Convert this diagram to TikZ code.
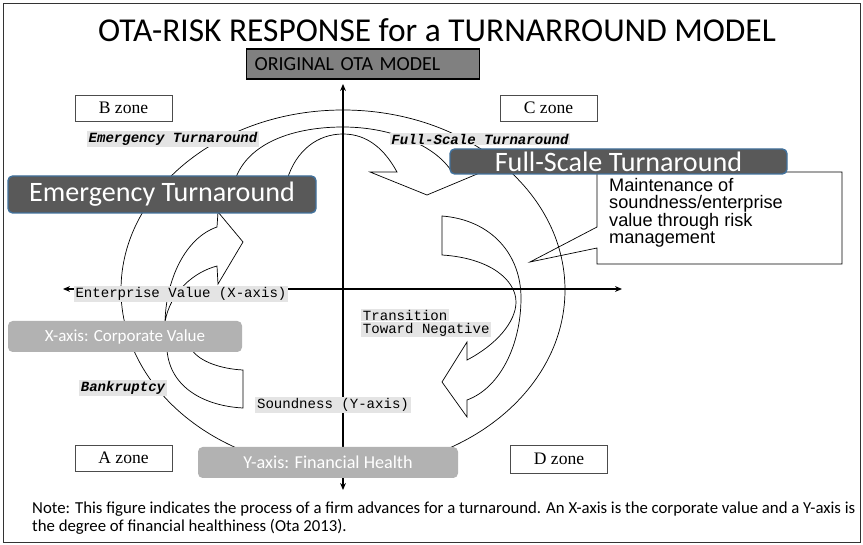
\documentclass[tikz,border=0pt]{standalone}
\usepackage{fontspec}
\setmainfont{Carlito}
\newfontfamily\arialfont{Liberation Sans}
\newfontfamily\gothfont{Liberation Mono}
\newfontfamily\minchofont{Liberation Serif}
\usetikzlibrary{arrows.meta, positioning}
\newcommand{\pxlen}{0.03cm}
\definecolor{boxdark}{RGB}{89,89,89}
\definecolor{boxedge}{RGB}{65,113,156}
\definecolor{boxlight}{RGB}{178,178,178}
\definecolor{labelbg}{RGB}{228,228,228}
\definecolor{origfill}{RGB}{128,128,128}
\tikzset{
      thinline/.style   = {draw=black, line width=0.6pt},
      axisline/.style   = {draw=black, line width=0.9pt, <->, >={Stealth[length=6pt,width=5pt]}},
      zonebox/.style    = {draw=black!70, fill=white, line width=0.8pt, inner sep=0pt,
                           minimum width=97*\pxlen, minimum height=26*\pxlen,
                           font=\minchofont\fontsize{15}{17}\selectfont},
      turnbox/.style    = {draw=boxedge, fill=boxdark, line width=1.2pt, rounded corners=4pt,
                           text=white, inner sep=0pt, font=\fontsize{24}{28}\selectfont},
      axisbox/.style    = {fill=boxlight, rounded corners=4pt, text=white, inner sep=0pt,
                           font=\fontsize{14.5}{16}\selectfont},
      monolabel/.style  = {fill=labelbg, inner xsep=1.5pt, inner ysep=1pt,
                           font=\gothfont\fontsize{12}{14}\selectfont},
      phaselabel/.style = {monolabel, font=\gothfont\bfseries\itshape\fontsize{12}{14}\selectfont},
      calltext/.style   = {align=left, inner sep=0pt, font=\arialfont\fontsize{15.5}{14.8}\selectfont},
      notetext/.style   = {inner sep=0pt, font=\fontsize{14.3}{16}\selectfont}
    }

\begin{document}
\begin{tikzpicture}[x=0.03cm, y=-0.03cm]
  \useasboundingbox (0,0) rectangle (863,545);
  % frame
  \draw[black!80, line width=0.8pt] (3,3) rectangle (860,542);
  % title and original model
  \node[anchor=base, font=\fontsize{28.5}{32}\selectfont] (title) at (437,42)
       {OTA-RISK RESPONSE for a TURNARROUND MODEL};
  \node[draw=black, fill=origfill, line width=1.2pt, anchor=west, inner xsep=0.24cm,
        inner ysep=0pt, minimum height=30*\pxlen, text width=6.51cm, align=left,
        font=\fontsize{17}{20}\selectfont] (orig) at (246,64) {ORIGINAL OTA MODEL};
  % outer cycle
  \draw[thinline] (343,290) ellipse [x radius=222*\pxlen, y radius=180*\pxlen];
  % axes
  \coordinate (xl) at (63,289);
  \coordinate (xr) at (622,289);
  \coordinate (yt) at (343,84);
  \coordinate (yb) at (343,490);
  \draw[axisline] (xl) -- (xr);
  \draw[axisline] (yb) -- (yt);
  % block arrow over the top
  \draw[thinline] (235,180) .. controls (248,142) and (295,127) .. (343,127)
        .. controls (392,127) and (436,146) .. (452,172) -- (482,172) -- (427,195)
        -- (370,172) -- (397,172) .. controls (385,150) and (368,134) .. (343,134)
        .. controls (318,134) and (296,150) .. (287,180);
  % block arrow on the left
  \draw[thinline] (165,322) .. controls (166,280) and (185,238) .. (217,227)
        -- (218,212) -- (243,242) -- (218,284) -- (217,266)
        .. controls (194,272) and (170,292) .. (165,322);
  % tail below the corporate value box
  \draw[thinline] (167,350) .. controls (170,388) and (205,406) .. (243,408)
        -- (243,370) .. controls (222,369) and (200,362) .. (192,350);
  % block arrow on the right
  \draw[thinline] (442,216) .. controls (492,220) and (521,255) .. (521,298)
        .. controls (521,345) and (500,388) .. (467,400) -- (467,417) -- (442,382)
        -- (467,342) -- (467,360) .. controls (496,345) and (516,322) .. (516,302)
        .. controls (516,280) and (490,258) .. (442,255) -- cycle;
  % callout
  \draw[thinline] (597,227) -- (597,172) -- (842,172) -- (842,264) -- (597,264)
        -- (597,248) -- (530,262) -- cycle;
  \node[calltext, anchor=north west] (callnote) at (609,178)
       {Maintenance of\\soundness/enterprise\\value through risk\\management};
  % zones
  \node[zonebox] (bzone) at (123.5,108) {B zone};
  \node[zonebox] (czone) at (548.5,108) {C zone};
  \node[zonebox] (azone) at (123.5,458) {A zone};
  \node[zonebox, minimum height=28*\pxlen] (dzone) at (559,459) {D zone};
  % phase labels
  \node[phaselabel] (emlabel) at (173,139) {Emergency Turnaround};
  \node[phaselabel] (fslabel) at (480,139) {Full-Scale Turnaround};
  \node[phaselabel] (bklabel) at (123,388) {Bankruptcy};
  % turnaround boxes
  \node[turnbox, minimum width=308*\pxlen, minimum height=37*\pxlen] (embox) at (162,194.5)
       {Emergency Turnaround};
  \node[turnbox, minimum width=337*\pxlen, minimum height=25*\pxlen] (fsbox) at (618.5,161.5)
       {Full-Scale Turnaround};
  % axis labels
  \node[monolabel] (xlabel) at (181,294) {Enterprise Value (X-axis)};
  \node[monolabel] (ylabel) at (333,405) {Soundness (Y-axis)};
  \node[monolabel, anchor=west] (trans1) at (361,315) {Transition};
  \node[monolabel, below=0pt of trans1.south west, anchor=north west] (trans2) {Toward Negative};
  \node[axisbox, minimum width=234*\pxlen, minimum height=31*\pxlen] (xbox) at (125,336.5)
       {X-axis: Corporate Value};
  \node[axisbox, minimum width=260*\pxlen, minimum height=31*\pxlen,
        font=\fontsize{15.5}{17}\selectfont] (ybox) at (328,462.5)
       {Y-axis: Financial Health};
  % note
  \node[notetext, anchor=base west] (note1) at (32,514)
       {Note: This figure indicates the process of a firm advances for a turnaround. An X-axis is the corporate value and a Y-axis is};
  \node[notetext, anchor=base west] (note2) at (32,532)
       {the degree of financial healthiness (Ota 2013).};
\end{tikzpicture}
\end{document}
